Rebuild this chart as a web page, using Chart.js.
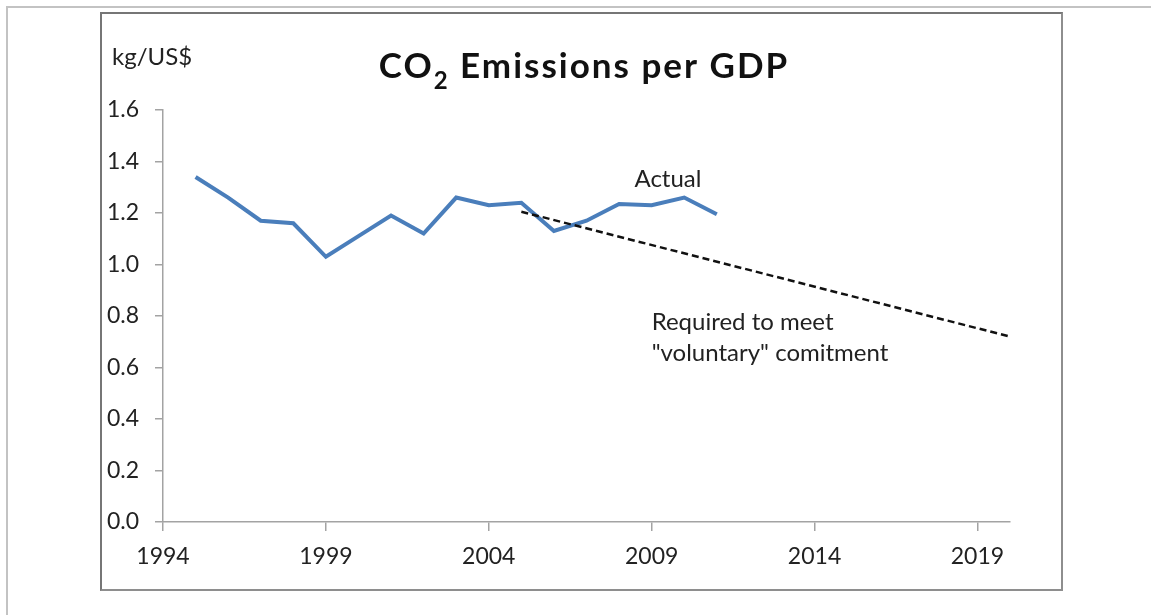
<!DOCTYPE html>
<html>
<head>
<meta charset="utf-8">
<script src="https://cdn.jsdelivr.net/npm/chart.js@4/dist/chart.umd.min.js"></script>
<style>
  html, body { margin: 0; padding: 0; background: #fff; }
  body { width: 1151px; height: 615px; position: relative; overflow: hidden; }
  .outer { position: absolute; left: 6px; top: 6px; right: 0; bottom: 0;
           border-top: 2px solid #c3c3c3; border-left: 2px solid #c3c3c3; }
  .inner { position: absolute; left: 100px; top: 12px; width: 963px; height: 579px;
           box-sizing: border-box; border: 2px solid #8e8e8e;
           border-top-color: #767676; border-left-color: #767676; }
  canvas { position: absolute; left: 0; top: 0; }
</style>
</head>
<body>
<div class="outer"></div>
<div class="inner"></div>
<canvas id="chart" width="1151" height="615"></canvas>
<script>
// values
const actualYears = [1995, 1996, 1997, 1998, 1999, 2000, 2001, 2002, 2003, 2004, 2005, 2006, 2007, 2008, 2009, 2010, 2011];
const actualValues = [1.34, 1.26, 1.17, 1.16, 1.03, 1.11, 1.19, 1.12, 1.26, 1.23, 1.24, 1.13, 1.17, 1.235, 1.23, 1.26, 1.195];
const requiredYears = [2005, 2020];
const requiredValues = [1.205, 0.72];
const xTicks = [1994, 1999, 2004, 2009, 2014, 2019];

const FONT = "Lato, 'Open Sans', sans-serif";
const axisGray = '#a3a3a3';

const textPlugin = {
    id: 'texts',
    afterDraw(chart) {
        const ctx = chart.ctx;
        const xs = chart.scales.x, ys = chart.scales.y;
        ctx.save();
        ctx.fillStyle = '#111';
        ctx.textBaseline = 'alphabetic';

        // title with subscript 2
        const big = `bold 35px ${FONT}`, small = `bold 24px ${FONT}`;
        ctx.letterSpacing = '2px';
        ctx.font = big;
        const wCO = ctx.measureText('CO').width;
        const wRest = ctx.measureText(' Emissions per GDP').width;
        ctx.font = small;
        const w2 = ctx.measureText('2').width;
        let x = 584 - (wCO + w2 + wRest) / 2;
        ctx.textAlign = 'left';
        ctx.font = big;
        ctx.fillText('CO', x, 78);
        ctx.font = small;
        ctx.fillText('2', x + wCO, 89);
        ctx.font = big;
        ctx.fillText(' Emissions per GDP', x + wCO + w2, 78);
        ctx.letterSpacing = '0px';

        ctx.fillStyle = '#222';
        ctx.font = `24px ${FONT}`;
        ctx.fillText('kg/US$', 112, 65);

        ctx.textAlign = 'center';
        ctx.fillText('Actual', xs.getPixelForValue(2009.5), ys.getPixelForValue(1.30));

        ctx.textAlign = 'left';
        ctx.fillText('Required to meet', xs.getPixelForValue(2009), ys.getPixelForValue(0.746));
        ctx.fillText('"voluntary" comitment', xs.getPixelForValue(2009), ys.getPixelForValue(0.626));
        ctx.restore();
    }
};

new Chart('chart', {
    type: 'line',
    data: {
        datasets: [{
            label: 'Actual',
            data: actualYears.map((y, i) => ({ x: y, y: actualValues[i] })),
            borderColor: '#4a7ebb',
            borderWidth: 4,
            pointRadius: 0,
            tension: 0,
            borderJoinStyle: 'miter',
            order: 1
        }, {
            label: 'Required',
            data: requiredYears.map((y, i) => ({ x: y, y: requiredValues[i] })),
            borderColor: '#111',
            borderWidth: 2.5,
            borderDash: [7, 4],
            pointRadius: 0,
            tension: 0,
            order: 0
        }]
    },
    options: {
        responsive: false,
        animation: false,
        layout: { padding: { left: 100, top: 110, right: 141, bottom: 0 } },
        plugins: {
            legend: { display: false },
            title: { display: false },
            tooltip: { enabled: false }
        },
        scales: {
            x: {
                type: 'linear',
                min: 1994,
                max: 2020,
                afterBuildTicks: (scale) => { scale.ticks = xTicks.map(v => ({ value: v })); },
                afterFit: (scale) => { scale.height = 93; },
                grid: { drawOnChartArea: false, color: axisGray, lineWidth: 1.5, tickLength: 9 },
                border: { color: axisGray, width: 1.5 },
                ticks: {
                    color: '#222',
                    font: { family: FONT, size: 23 },
                    padding: 12,
                    maxRotation: 0,
                    callback: (v) => String(v)
                }
            },
            y: {
                min: 0,
                max: 1.6,
                afterFit: (scale) => { scale.width = 63; },
                grid: { drawOnChartArea: false, color: axisGray, lineWidth: 1.5, tickLength: 8 },
                border: { color: axisGray, width: 1.5 },
                ticks: {
                    stepSize: 0.2,
                    color: '#222',
                    font: { family: FONT, size: 23 },
                    padding: 16,
                    callback: (v) => v.toFixed(1)
                }
            }
        }
    },
    plugins: [textPlugin]
});
</script>
</body>
</html>
